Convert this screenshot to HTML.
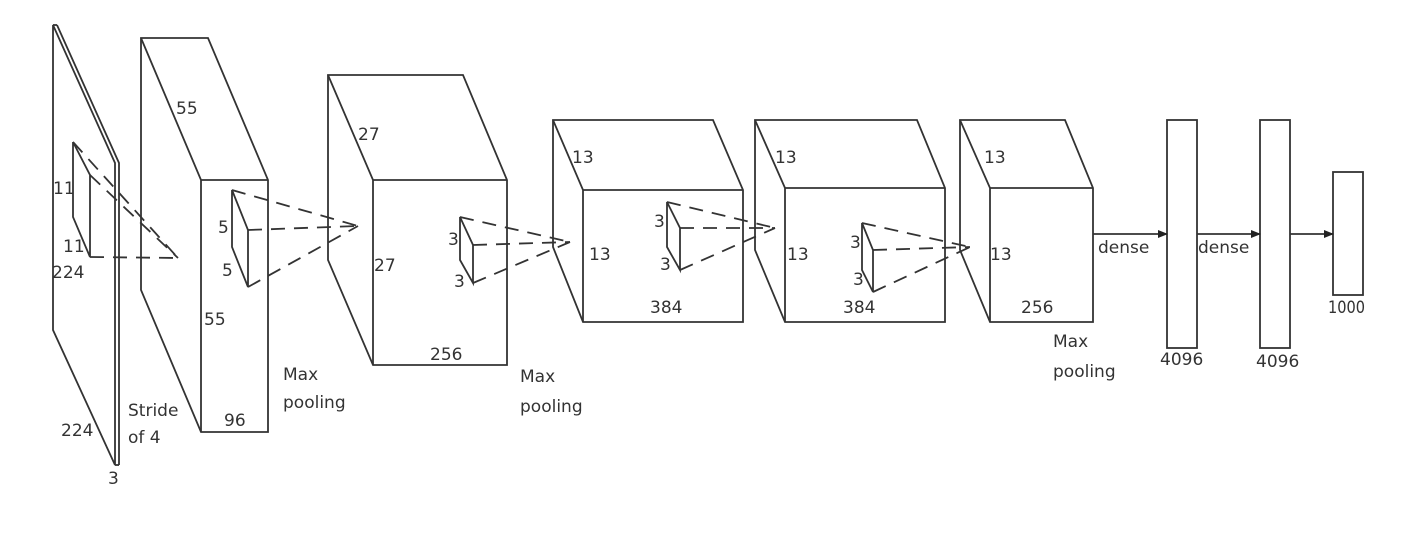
<!DOCTYPE html>
<html><head><meta charset="utf-8"><style>
html,body{margin:0;padding:0;background:#fff;}
svg{display:block;}
text{font-family:"DejaVu Sans","Liberation Sans",sans-serif;font-size:17px;fill:#333;}
</style></head><body>
<svg width="1406" height="542" viewBox="0 0 1406 542" xmlns="http://www.w3.org/2000/svg">
<defs><marker id="ah" markerWidth="10" markerHeight="8" refX="9" refY="4" orient="auto" markerUnits="userSpaceOnUse"><path d="M0,0 L10,4 L0,8 z" fill="#222"/></marker></defs>
<g fill="none" stroke="#333" stroke-width="1.8">
<path d="M53,25 L115,163 L115,465 L53,330 Z"/>
<path d="M57,25 L119,163 L119,465"/>
<path d="M53,25 L57,25"/>
<path d="M115,465 L119,465"/>
<path d="M73,142 L73,217 L90,257 L90,175 L73,142"/>
<g stroke-dasharray="14,9"><path d="M73,142 L178,258"/><path d="M90,175 L178,258"/><path d="M90,257 L178,258"/></g>
<path d="M141,38 L208,38 L268,180 L268,432 L201,432 L141,290 Z"/>
<path d="M141,38 L201,180 L268,180 M201,180 L201,432"/>
<path d="M232,190 L232,247 L248,287 L248,230 Z"/>
<g stroke-dasharray="14,9"><path d="M232,190 L358,226"/><path d="M248,230 L358,226"/><path d="M248,287 L358,226"/></g>
<path d="M328,75 L463,75 L507,180 L507,365 L373,365 L328,260 Z"/>
<path d="M328,75 L373,180 L507,180 M373,180 L373,365"/>
<path d="M460,217 L460,260 L473,283 L473,245 Z"/>
<g stroke-dasharray="14,9"><path d="M460,217 L570,242"/><path d="M473,245 L570,242"/><path d="M473,283 L570,242"/></g>
<path d="M553,120 L713,120 L743,190 L743,322 L583,322 L553,247 Z"/>
<path d="M553,120 L583,190 L743,190 M583,190 L583,322"/>
<path d="M667,202 L667,247 L680,270 L680,228 Z"/>
<g stroke-dasharray="14,9"><path d="M667,202 L775,228"/><path d="M680,228 L775,228"/><path d="M680,270 L775,228"/></g>
<path d="M755,120 L917,120 L945,188 L945,322 L785,322 L755,250 Z"/>
<path d="M755,120 L785,188 L945,188 M785,188 L785,322"/>
<path d="M862,223 L862,270 L873,292 L873,250 Z"/>
<g stroke-dasharray="14,9"><path d="M862,223 L970,247"/><path d="M873,250 L970,247"/><path d="M873,292 L970,247"/></g>
<path d="M960,120 L1065,120 L1093,188 L1093,322 L990,322 L960,250 Z"/>
<path d="M960,120 L990,188 L1093,188 M990,188 L990,322"/>
<rect x="1167" y="120" width="30" height="228"/>
<rect x="1260" y="120" width="30" height="228"/>
<rect x="1333" y="172" width="30" height="123"/>
<path d="M1093,234 L1167,234" marker-end="url(#ah)"/>
<path d="M1197,234 L1260,234" marker-end="url(#ah)"/>
<path d="M1290,234 L1333,234" marker-end="url(#ah)"/>
</g>
<g>
<text x="53" y="194">11</text><text x="63" y="252">11</text><text x="52" y="278">224</text>
<text x="61" y="436">224</text><text x="108" y="484">3</text>
<text x="176" y="114">55</text><text x="204" y="325">55</text><text x="224" y="426">96</text>
<text x="218" y="233">5</text><text x="222" y="276">5</text>
<text x="128" y="416">Stride</text><text x="128" y="443">of 4</text>
<text x="283" y="380">Max</text><text x="283" y="408">pooling</text>
<text x="358" y="140">27</text><text x="374" y="271">27</text><text x="430" y="360">256</text>
<text x="448" y="245">3</text><text x="454" y="287">3</text>
<text x="520" y="382">Max</text><text x="520" y="412">pooling</text>
<text x="572" y="163">13</text><text x="589" y="260">13</text><text x="650" y="313">384</text>
<text x="654" y="227">3</text><text x="660" y="270">3</text>
<text x="775" y="163">13</text><text x="787" y="260">13</text><text x="843" y="313">384</text>
<text x="850" y="248">3</text><text x="853" y="285">3</text>
<text x="984" y="163">13</text><text x="990" y="260">13</text><text x="1021" y="313">256</text>
<text x="1053" y="347">Max</text><text x="1053" y="377">pooling</text>
<text x="1098" y="253">dense</text><text x="1198" y="253">dense</text>
<text x="1160" y="365" font-size="16">4096</text><text x="1256" y="367" font-size="16">4096</text>
<text x="1328" y="313" font-size="16" textLength="37" lengthAdjust="spacingAndGlyphs">1000</text>
</g>
</svg>
</body></html>
